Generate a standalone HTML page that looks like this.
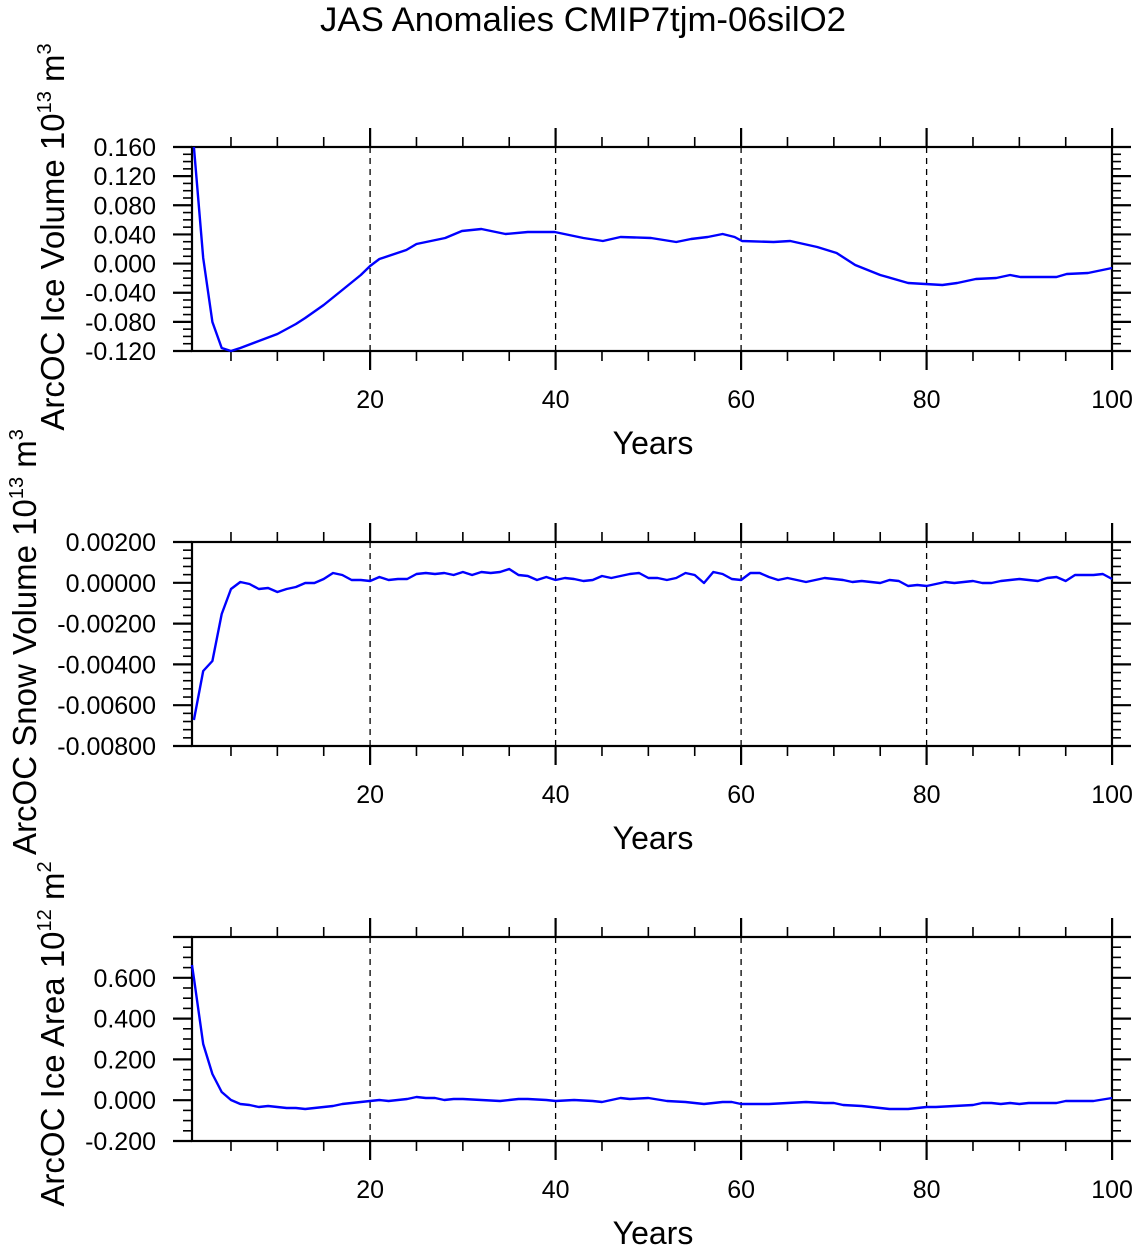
<!DOCTYPE html>
<html><head><meta charset="utf-8"><style>
html,body{margin:0;padding:0;background:#fff}
svg{display:block;font-family:"Liberation Sans",Arial,sans-serif}
</style></head><body>
<svg id="s" width="1138" height="1250" viewBox="0 0 1138 1250" xmlns="http://www.w3.org/2000/svg">
<text x="583" y="31" font-size="34" text-anchor="middle" textLength="526" lengthAdjust="spacingAndGlyphs">JAS Anomalies CMIP7tjm-06silO2</text>
<text transform="translate(64,237) rotate(-90)" font-size="33" text-anchor="middle">ArcOC Ice Volume 10<tspan font-size="20" dy="-13">13</tspan><tspan dy="13"> m</tspan><tspan font-size="20" dy="-13">3</tspan></text>
<text transform="translate(36,642) rotate(-90)" font-size="33" text-anchor="middle">ArcOC Snow Volume 10<tspan font-size="20" dy="-13">13</tspan><tspan dy="13"> m</tspan><tspan font-size="20" dy="-13">3</tspan></text>
<text transform="translate(64,1034) rotate(-90)" font-size="33" text-anchor="middle">ArcOC Ice Area 10<tspan font-size="20" dy="-13">12</tspan><tspan dy="13"> m</tspan><tspan font-size="20" dy="-13">2</tspan></text>
</svg>
<script>
var s=document.getElementById('s'),NS='http://www.w3.org/2000/svg';
function el(t,a,txt){var e=document.createElementNS(NS,t);for(var k in a)e.setAttribute(k,a[k]);if(txt!=null)e.textContent=txt;s.appendChild(e);return e;}
function X(y){return 184.6+9.275*y;}
var L=192,R=1112;
var panels=[
 {top:147,bot:351,min:-0.12,max:0.16,maj:0.04,mn:0.01,dec:3,
  d:[[1,147],[2,258],[3,322],[4,348],[5,351],[6,348],[8,341],[10,334],[12,324],[13,318],[15,305],[17,290],[19,275],[20,266],[21,259],[23.9,250],[25,244],[28.1,238],[29.9,231],[32,229],[34.6,234],[37,232],[39.9,232],[43,238],[45.1,241],[47,237],[50.3,238],[53,242],[54.6,239],[56.4,237],[58,234],[59.3,237],[60.1,241],[63.5,242],[65.3,241],[68.2,247],[70.3,253],[72.3,265],[75,275],[78,283],[81.7,285],[83.3,283],[85.3,279],[87.5,278],[89,275],[90.1,277],[94,277],[95.1,274],[97.4,273],[100,268]]},
 {top:542,bot:746,min:-0.008,max:0.002,maj:0.002,mn:0.0004,dec:5,
  d:[[1,720],[2,671],[3,661],[4,614],[5,589],[6,582],[7,584],[8,589],[9,588],[10,592],[11,589],[12,587],[13,583],[14,583],[15,579],[16,573],[17,575],[18,580],[19,580],[20,581],[21,577],[22,580],[23,579],[24,579],[25,574],[26,573],[27,574],[28,573],[29,575],[30,572],[31,575],[32,572],[33,573],[34,572],[35,569],[36,575],[37,576],[38,580],[39,577],[40,580],[41,578],[42,579],[43,581],[44,580],[45,576],[46,578],[47,576],[48,574],[49,573],[50,578],[51,578],[52,580],[53,578],[54,573],[55,575],[56,583],[57,572],[58,574],[59,579],[60,580],[61,573],[62,573],[63,577],[64,580],[65,578],[66,580],[67,582],[68,580],[69,578],[70,579],[71,580],[72,582],[73,581],[74,582],[75,583],[76,580],[77,581],[78,586],[79,585],[80,586],[81,584],[82,582],[83,583],[84,582],[85,581],[86,583],[87,583],[88,581],[89,580],[90,579],[91,580],[92,581],[93,578],[94,577],[95,581],[96,575],[97,575],[98,575],[99,574],[100,579]]},
 {top:937,bot:1141,min:-0.2,max:0.8,maj:0.2,mn:0.05,dec:3,from:-0.2,to:0.6,
  d:[[0.8,965],[1,978],[2,1044],[3,1074],[4,1092],[5,1100],[6,1104],[7,1105],[8,1107],[9,1106],[10,1107],[11,1108],[12,1108],[13,1109],[14,1108],[15,1107],[16,1106],[17,1104],[18,1103],[19,1102],[20,1101],[21,1100],[22,1101],[23,1100],[24,1099],[25,1097],[26,1098],[27,1098],[28,1100],[29,1099],[30,1099],[32,1100],[34,1101],[36,1099],[37,1099],[39,1100],[40,1101],[42,1100],[44,1101],[45,1102],[46,1100],[47,1098],[48,1099],[50,1098],[52,1101],[54,1102],[55,1103],[56,1104],[57,1103],[58,1102],[59,1102],[60,1104],[62,1104],[63,1104],[65,1103],[67,1102],[69,1103],[70,1103],[71,1105],[73,1106],[75,1108],[76,1109],[78,1109],[80,1107],[81,1107],[83,1106],[85,1105],[86,1103],[87,1103],[88,1104],[89,1103],[90,1104],[91,1103],[93,1103],[94,1103],[95,1101],[96,1101],[98,1101],[100,1098]]}
];
panels.forEach(function(p){
 var T=p.top,B=p.bot;
 function Y(v){return B-(v-p.min)/(p.max-p.min)*(B-T);}
 [20,40,60,80].forEach(function(y){el('line',{x1:X(y),x2:X(y),y1:T,y2:B,stroke:'#000','stroke-width':1.3,'stroke-dasharray':'6,5'});});
 for(var y=5;y<=100;y+=5){var maj=(y%20==0),len=maj?19:10,x=X(y);
  el('line',{x1:x,x2:x,y1:T,y2:T-len,stroke:'#000','stroke-width':maj?2.2:1.6});
  el('line',{x1:x,x2:x,y1:B,y2:B+len,stroke:'#000','stroke-width':maj?2.2:1.6});
  if(maj)el('text',{x:x,y:B+57,'font-size':25,'text-anchor':'middle'},String(y));}
 var n=Math.round((p.max-p.min)/p.mn);
 for(var i=0;i<=n;i++){var v=p.min+i*p.mn,yy=Y(v);var r=Math.round(v/p.maj*1000)/1000;var maj=Math.abs(r-Math.round(r))<1e-6;var len=maj?19:9;
  el('line',{x1:L,x2:L-len,y1:yy,y2:yy,stroke:'#000','stroke-width':maj?2.2:1.6});
  el('line',{x1:R,x2:R+len,y1:yy,y2:yy,stroke:'#000','stroke-width':maj?2.2:1.6});
  var lo=p.from!=null?p.from:p.min,hi=p.to!=null?p.to:p.max;
  if(maj&&v>=lo-1e-9&&v<=hi+1e-9){var t=v.toFixed(p.dec);if(Math.abs(v)<1e-12)t=(0).toFixed(p.dec);
   el('text',{x:156,y:yy+9,'font-size':25,'text-anchor':'end'},t);}}
 el('rect',{x:L,y:T,width:R-L,height:B-T,fill:'none',stroke:'#000','stroke-width':2.2});
 el('polyline',{points:p.d.map(function(q){return X(q[0]).toFixed(1)+','+q[1];}).join(' '),fill:'none',stroke:'#0000ff','stroke-width':2.4,'stroke-linejoin':'round'});
 el('text',{x:653,y:B+103,'font-size':32,'text-anchor':'middle'},'Years');
});
</script>
</body></html>
